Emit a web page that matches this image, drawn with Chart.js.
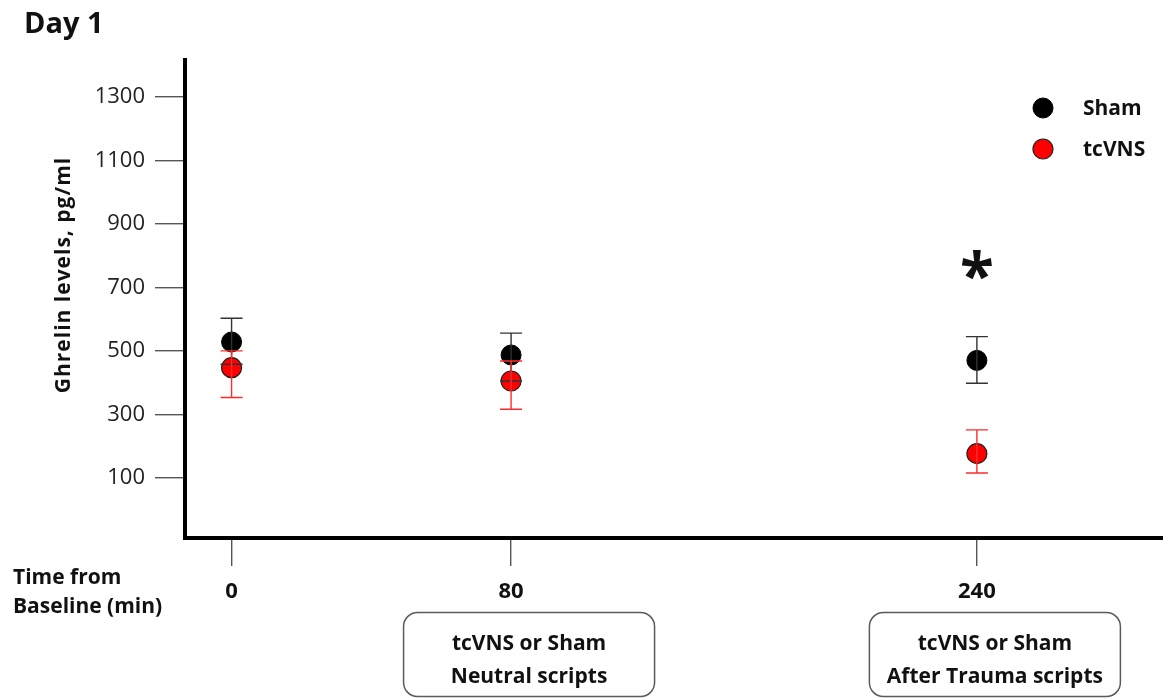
<!DOCTYPE html>
<html>
<head>
<meta charset="utf-8">
<script src="https://cdn.jsdelivr.net/npm/chart.js@4.4.0/dist/chart.umd.min.js"></script>
<style>
  html, body { margin: 0; padding: 0; background: #fff; overflow: hidden; }
  #wrap { position: absolute; left: 0; top: 0; width: 1221px; height: 698px; }
</style>
</head>
<body>
<div id="wrap"><canvas id="c" width="1221" height="698"></canvas></div>
<script>
// Time axis slots (minutes from baseline); blank slots keep the uneven spacing
const timeline = ['0', '', '', '80', '', '', '', '', '240', '', ''];
const timePoints = ['0', '80', '240'];

// Ghrelin, pg/ml: mean with upper / lower error bar ends
const shamMean  = [528, 487, 470];
const shamHigh  = [603, 556, 545];
const shamLow   = [458, 405, 398];
const tcvnsMean = [447, 405, 176];
const tcvnsHigh = [500, 468, 251];
const tcvnsLow  = [353, 316, 115];

const yTicks = [100, 300, 500, 700, 900, 1100, 1300];
const significance = ['', '', '*'];
const phaseBoxes = [null, ['tcVNS or Sham', 'Neutral scripts'], ['tcVNS or Sham', 'After Trauma scripts']];

const FONT = '"Open Sans", "Liberation Sans", sans-serif';
Chart.defaults.font.family = FONT;

const toPoints = (vals) => timePoints.map((t, i) => ({ x: t, y: vals[i] }));

// Error bars with caps, drawn over the markers
const errorBars = {
  id: 'errorBars',
  afterDatasetsDraw(chart) {
    const { ctx, scales: { y } } = chart;
    chart.data.datasets.forEach((ds, di) => {
      const meta = chart.getDatasetMeta(di);
      ctx.save();
      ctx.strokeStyle = ds.errorColor;
      ctx.lineWidth = 1.4;
      meta.data.forEach((pt, i) => {
        const x = pt.x;
        const yh = y.getPixelForValue(ds.high[i]);
        const yl = y.getPixelForValue(ds.low[i]);
        ctx.beginPath();
        ctx.moveTo(x, yh); ctx.lineTo(x, yl);
        ctx.moveTo(x - 11, yh); ctx.lineTo(x + 11, yh);
        ctx.moveTo(x - 11, yl); ctx.lineTo(x + 11, yl);
        ctx.stroke();
      });
      ctx.restore();
    });
  }
};

// Panel title, axis titles, legend, significance mark and phase boxes
const decorations = {
  id: 'decorations',
  afterDraw(chart) {
    const { ctx, scales: { x, y } } = chart;
    ctx.save();
    ctx.fillStyle = '#111';

    // Panel title
    ctx.font = 'bold 29px ' + FONT;
    ctx.textAlign = 'left';
    ctx.textBaseline = 'alphabetic';
    ctx.fillText('Day 1', 24, 33);

    // Y axis title
    ctx.save();
    ctx.translate(64, 275);
    ctx.rotate(-Math.PI / 2);
    ctx.font = 'bold 21px ' + FONT;
    ctx.letterSpacing = '1px';
    ctx.textAlign = 'center';
    ctx.textBaseline = 'middle';
    ctx.fillText('Ghrelin levels, pg/ml', 0, 0);
    ctx.restore();

    // X axis title
    ctx.font = 'bold 21px ' + FONT;
    ctx.textAlign = 'left';
    ctx.textBaseline = 'alphabetic';
    ctx.fillText('Time from', 13, 584);
    ctx.fillText('Baseline (min)', 13, 613);

    // Legend
    const items = chart.data.datasets;
    items.forEach((ds, i) => {
      const cy = 108 + i * 41;
      ctx.beginPath();
      ctx.arc(1043, cy, 10, 0, Math.PI * 2);
      ctx.fillStyle = ds.backgroundColor;
      ctx.fill();
      ctx.lineWidth = ds.borderWidth;
      ctx.strokeStyle = ds.borderColor;
      ctx.stroke();
      ctx.fillStyle = '#111';
      ctx.font = 'bold 21px ' + FONT;
      ctx.textAlign = 'left';
      ctx.textBaseline = 'middle';
      ctx.fillText(ds.label, 1083, cy + 1);
    });

    // Significance marks above the Sham error bars
    ctx.font = 'bold 62px ' + FONT;
    ctx.textAlign = 'center';
    ctx.textBaseline = 'alphabetic';
    significance.forEach((s, i) => {
      if (!s) return;
      const m = ctx.measureText(s);
      const inkMid = (m.actualBoundingBoxAscent - m.actualBoundingBoxDescent) / 2;
      const px = x.getPixelForValue(timeline.indexOf(timePoints[i]));
      const py = y.getPixelForValue(shamHigh[i]) - 72;
      ctx.fillText(s, px, py + inkMid);
    });

    // Intervention boxes under the time labels
    phaseBoxes.forEach((lines, i) => {
      if (!lines) return;
      const cx = x.getPixelForValue(timeline.indexOf(timePoints[i])) + 18;
      const w = 251, h = 84, top = 612.5;
      ctx.beginPath();
      ctx.roundRect(cx - w / 2, top, w, h, 14);
      ctx.lineWidth = 1.5;
      ctx.strokeStyle = '#5a5a5a';
      ctx.stroke();
      ctx.fillStyle = '#111';
      ctx.font = 'bold 21px ' + FONT;
      ctx.textAlign = 'center';
      ctx.textBaseline = 'middle';
      ctx.fillText(lines[0], cx, top + 32);
      ctx.fillText(lines[1], cx, top + 65);
    });
    ctx.restore();
  }
};

new Chart(document.getElementById('c'), {
  type: 'line',
  data: {
    labels: timeline,
    datasets: [
      {
        label: 'Sham',
        data: toPoints(shamMean),
        high: shamHigh, low: shamLow,
        errorColor: '#333333',
        showLine: false,
        pointRadius: 10, pointHoverRadius: 10,
        backgroundColor: '#000000', borderColor: '#000000', borderWidth: 1
      },
      {
        label: 'tcVNS',
        data: toPoints(tcvnsMean),
        high: tcvnsHigh, low: tcvnsLow,
        errorColor: '#ff2b2b',
        showLine: false,
        pointRadius: 10, pointHoverRadius: 10,
        backgroundColor: '#ff0000', borderColor: '#222222', borderWidth: 1.2
      }
    ]
  },
  options: {
    responsive: false,
    animation: false,
    devicePixelRatio: 1,
    events: [],
    layout: { padding: { top: 60, left: 0, right: 3, bottom: 0 } },
    plugins: { legend: { display: false }, tooltip: { enabled: false } },
    scales: {
      x: {
        type: 'category',
        offset: true,
        afterFit: (s) => { s.height = 160; },
        border: { display: true, color: '#000', width: 4 },
        grid: {
          offset: false,
          drawOnChartArea: false,
          drawTicks: true,
          tickLength: 28,
          lineWidth: 1.4,
          color: (c) => (timeline[c.index] ? '#555' : 'rgba(0,0,0,0)')
        },
        ticks: {
          autoSkip: false,
          maxRotation: 0,
          padding: 13,
          color: '#111',
          font: { size: 22, weight: 'bold' }
        }
      },
      y: {
        min: -90,
        max: 1417,
        afterFit: (s) => { s.width = 185; },
        afterBuildTicks: (s) => { s.ticks = yTicks.map(v => ({ value: v })); },
        border: { display: true, color: '#000', width: 4 },
        grid: {
          drawOnChartArea: false,
          drawTicks: true,
          tickLength: 30,
          lineWidth: 1.4,
          color: '#555'
        },
        ticks: {
          padding: 10,
          color: '#222',
          font: { size: 22 },
          callback: (v) => String(v)
        }
      }
    }
  },
  plugins: [errorBars, decorations]
});
</script>
</body>
</html>
